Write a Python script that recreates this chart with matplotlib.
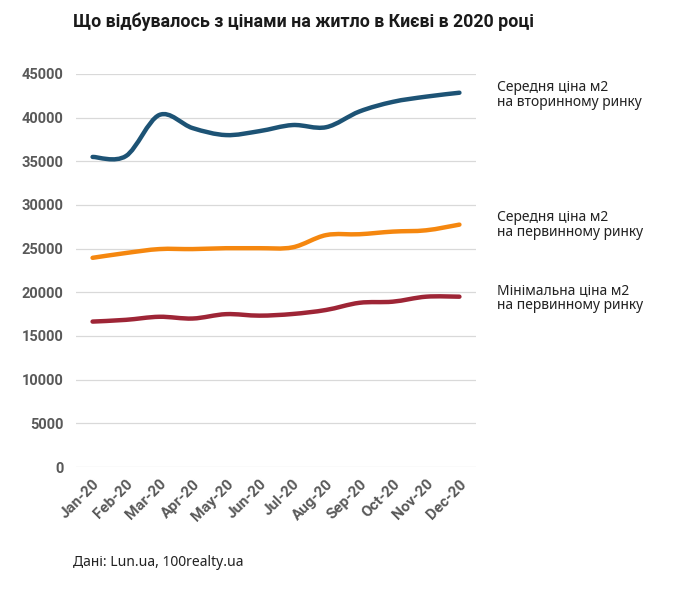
import numpy as np
import matplotlib
matplotlib.use('Agg')
import matplotlib.pyplot as plt
from matplotlib.path import Path
from matplotlib.patches import PathPatch

months = ['Jan-20', 'Feb-20', 'Mar-20', 'Apr-20', 'May-20', 'Jun-20',
          'Jul-20', 'Aug-20', 'Sep-20', 'Oct-20', 'Nov-20', 'Dec-20']

# Середня ціна м2 на вторинному ринку
secondary_avg = [35500, 35600, 40300, 38800, 38000, 38450,
                 39150, 38900, 40700, 41800, 42400, 42850]
# Середня ціна м2 на первинному ринку
primary_avg = [23950, 24500, 24950, 24950, 25050, 25050,
               25150, 26550, 26650, 26950, 27100, 27750]
# Мінімальна ціна м2 на первинному ринку
primary_min = [16650, 16850, 17200, 17000, 17500, 17330,
               17520, 17980, 18800, 18930, 19500, 19500]

labels = ['Середня ціна м2\nна вторинному ринку',
          'Середня ціна м2\nна первинному ринку',
          'Мінімальна ціна м2\nна первинному ринку']
colors = ['#1d5375', '#f5870f', '#9e2536']
yticks = [0, 5000, 10000, 15000, 20000, 25000, 30000, 35000, 40000, 45000]


def smooth_path(x, y, t=1/6):
    # згладжена лінія як у Excel: Catmull-Rom -> кубічні Безьє
    x = np.asarray(x, float)
    y = np.asarray(y, float)
    n = len(x)
    verts = [(x[0], y[0])]
    codes = [Path.MOVETO]
    for i in range(n - 1):
        p0 = i - 1 if i > 0 else i
        p3 = i + 2 if i + 2 < n else i + 1
        c1 = (x[i] + (x[i + 1] - x[p0]) * t, y[i] + (y[i + 1] - y[p0]) * t)
        c2 = (x[i + 1] - (x[p3] - x[i]) * t, y[i + 1] - (y[p3] - y[i]) * t)
        verts += [c1, c2, (x[i + 1], y[i + 1])]
        codes += [Path.CURVE4] * 3
    return Path(verts, codes)


fig = plt.figure(figsize=(6.9, 5.92), dpi=100)
ax = fig.add_axes([0.110, 0.2111, 0.580, 0.664])

xs = np.arange(len(months))
for vals, col in zip([secondary_avg, primary_avg, primary_min], colors):
    patch = PathPatch(smooth_path(xs, vals), facecolor='none', edgecolor=col,
                      lw=3.2, capstyle='round', joinstyle='round', zorder=3)
    ax.add_patch(patch)

ax.set_xlim(-0.5, 11.5)
ax.set_ylim(0, 45000)
ax.set_yticks(yticks)
ax.set_yticklabels([str(v) for v in yticks])
ax.set_xticks(xs)
ax.set_xticklabels(months, rotation=45, ha='right', rotation_mode='anchor')
ax.grid(axis='y', color='#d9d9d9', lw=0.9)
ax.set_axisbelow(True)
for s in ax.spines.values():
    s.set_visible(False)
ax.tick_params(length=0, colors='#595959')
ax.tick_params(axis='y', pad=9, labelsize=10.5)
ax.tick_params(axis='x', pad=7, labelsize=11)
for lab in ax.get_xticklabels() + ax.get_yticklabels():
    lab.set_fontweight('bold')
    lab.set_family('Roboto')

# підписи ліній праворуч
label_y = [95, 225, 298]
for text, yy in zip(labels, label_y):
    fig.text(497 / 690, 1 - yy / 592, text, fontsize=10, color='#222222',
             va='center', ha='left', linespacing=1.05, family='Noto Sans')

fig.text(73 / 690, 1 - 22 / 592, 'Що відбувалось з цінами на житло в Києві в 2020 році',
         fontsize=12.8, fontweight='bold', va='center', ha='left',
         family=['Liberation Sans Narrow', 'DejaVu Sans Condensed', 'Roboto'],
         color='#1a1a1a')
fig.text(73 / 690, 1 - 563 / 592, 'Дані: Lun.ua, 100realty.ua', fontsize=10,
         va='center', ha='left', family='Noto Sans', color='#222222')

fig.savefig('out.png', dpi=100, facecolor='white')
